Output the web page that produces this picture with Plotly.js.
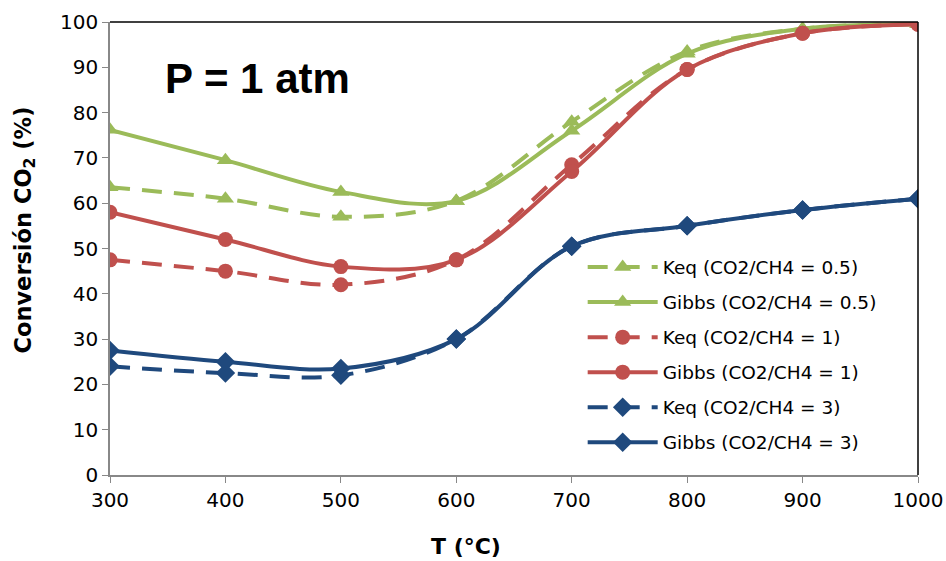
<!DOCTYPE html>
<html><head><meta charset="utf-8">
<script src="https://cdn.plot.ly/plotly-3.0.1.min.js"></script>
<style>html,body{margin:0;padding:0;background:#fff}</style>
</head><body>
<div id="chart" style="width:946px;height:561px"></div>
<script>
const T = [300, 400, 500, 600, 700, 800, 900, 1000];
const keq05   = [63.5, 61, 57, 60.5, 78, 93.5, 98.5, 99.5];
const gibbs05 = [76.2, 69.5, 62.5, 60.5, 76, 93, 98.5, 99.5];
const keq1    = [47.5, 45, 42, 47.5, 68.5, 89.5, 97.5, 99.5];
const gibbs1  = [58, 52, 46, 47.5, 67, 89.5, 97.5, 99.5];
const keq3    = [24, 22.5, 22, 30, 50.5, 55, 58.5, 61];
const gibbs3  = [27.5, 25, 23.5, 30, 50.5, 55, 58.5, 61];
const names = ['Keq (CO2/CH4 = 0.5)', 'Gibbs (CO2/CH4 = 0.5)', 'Keq (CO2/CH4 = 1)', 'Gibbs (CO2/CH4 = 1)', 'Keq (CO2/CH4 = 3)', 'Gibbs (CO2/CH4 = 3)'];
const xTicks = [300, 400, 500, 600, 700, 800, 900, 1000];
const yTicks = [0, 10, 20, 30, 40, 50, 60, 70, 80, 90, 100];

const green = '#9BBB59', red = '#C0504D', blue = '#1F497D';
const DASH = '20px,12px';
function tr(y, name, color, dash, symbol, size, g) {
  return {x: T, y: y, name: name, type: 'scatter', mode: 'lines+markers',
    legendgroup: g,
    line: {color: color, width: 4, dash: dash, shape: 'spline', smoothing: 1},
    marker: {color: color, symbol: symbol, size: size}};
}
const data = [
  tr(keq05, names[0], green, DASH, 'triangle-up', 15, 'g1'),
  tr(gibbs05, names[1], green, 'solid', 'triangle-up', 15, 'g2'),
  tr(keq1, names[2], red, DASH, 'circle', 15, 'g3'),
  tr(gibbs1, names[3], red, 'solid', 'circle', 15, 'g4'),
  tr(keq3, names[4], blue, DASH, 'diamond', 15, 'g5'),
  tr(gibbs3, names[5], blue, 'solid', 'diamond', 15, 'g6')
];
const font = 'DejaVu Sans, sans-serif';
const layout = {
  width: 946, height: 561,
  margin: {l: 110, r: 28, t: 22, b: 86},
  paper_bgcolor: '#fff', plot_bgcolor: '#fff',
  showlegend: true,
  legend: {x: 0.585, y: 0.5, xanchor: 'left', yanchor: 'top', traceorder: 'grouped',
    tracegroupgap: 8, itemwidth: 70, bgcolor: 'rgba(0,0,0,0)',
    font: {family: font, size: 18.5, color: '#000'}},
  xaxis: {range: [300, 1000], tickvals: xTicks, ticks: 'outside', ticklen: 6, tickcolor: '#888',
    showgrid: false, zeroline: false, showline: true, linecolor: '#888', linewidth: 1.5,
    tickfont: {family: font, size: 20, color: '#000'}},
  yaxis: {range: [0, 100], tickvals: yTicks, ticks: 'outside', ticklen: 6, tickcolor: '#888',
    showgrid: false, zeroline: false, showline: true, linecolor: '#888', linewidth: 1.5,
    tickfont: {family: font, size: 20, color: '#000'}},
  shapes: [
    {type: 'line', xref: 'paper', yref: 'paper', x0: 0, x1: 1, y0: 1, y1: 1, line: {color: '#000', width: 1.5}},
    {type: 'line', xref: 'paper', yref: 'paper', x0: 1, x1: 1, y0: 0, y1: 1, line: {color: '#000', width: 1.5}}
  ],
  annotations: [
    {xref: 'paper', yref: 'paper', x: 0.066, y: 0.876, xanchor: 'left', yanchor: 'middle',
      text: '<b>P = 1 atm</b>', showarrow: false, font: {family: 'Liberation Sans, Arial, sans-serif', size: 42, color: '#000'}},
    {xref: 'paper', yref: 'paper', x: 0.44, y: -0.157, xanchor: 'center', yanchor: 'middle',
      text: '<b>T (°C)</b>', showarrow: false, font: {family: font, size: 22, color: '#000'}},
    {xref: 'paper', yref: 'paper', x: -0.105, y: 0.54, xanchor: 'center', yanchor: 'middle', textangle: -90,
      text: '<b>Conversión CO<sub>2</sub> (%)</b>', showarrow: false, font: {family: font, size: 22.5, color: '#000'}}
  ]
};
Plotly.newPlot('chart', data, layout, {displayModeBar: false});
</script>
</body></html>
